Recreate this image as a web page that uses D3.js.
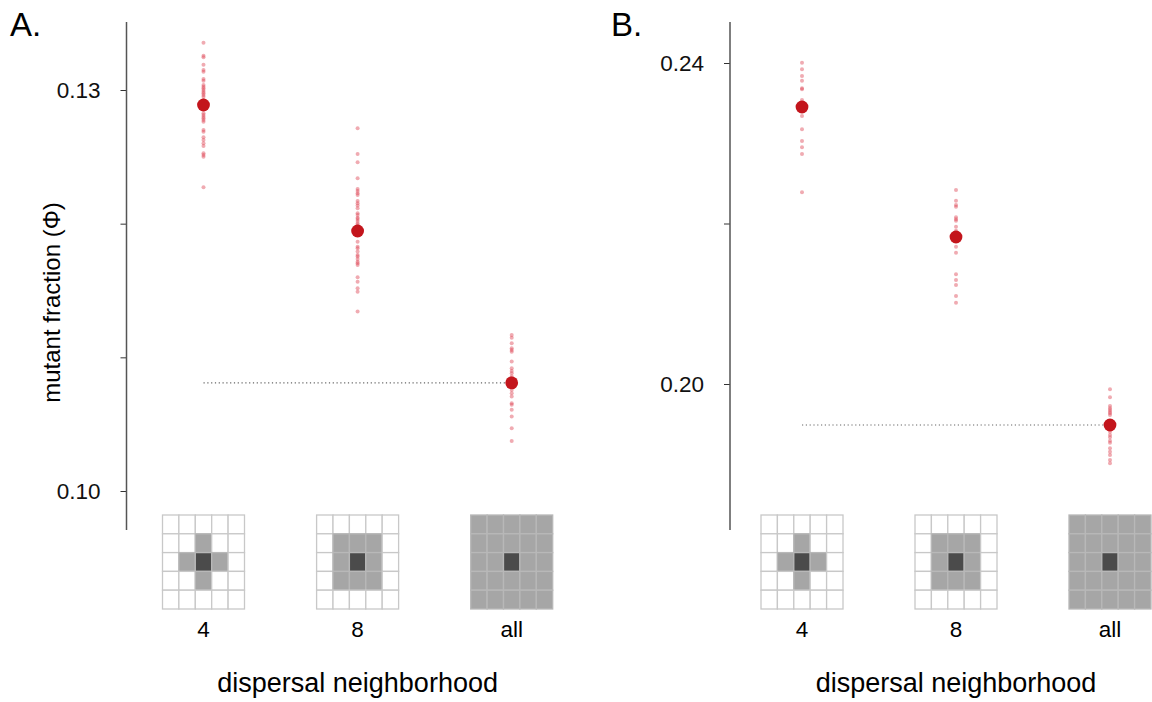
<!DOCTYPE html>
<html>
<head>
<meta charset="utf-8">
<script src="https://cdn.jsdelivr.net/npm/d3@7"></script>
<style>
  body { margin: 0; background: #fff; }
  svg { font-family: "Liberation Sans", Arial, sans-serif; }
</style>
</head>
<body>
<div id="chart"></div>
<script>
const categories = ['4', '8', 'all'];

// panel A: per-run values and means
const runsA4 = [0.13354, 0.13257, 0.13245, 0.13189, 0.13150, 0.13137, 0.13082, 0.13070, 0.13037, 0.13025,
  0.13013, 0.13000, 0.12987, 0.12975, 0.12963, 0.12950, 0.12925, 0.12850, 0.12826, 0.12813, 0.12800,
  0.12788, 0.12776, 0.12763, 0.12701, 0.12688, 0.12646, 0.12626, 0.12601, 0.12581, 0.12527, 0.12514,
  0.12501, 0.12272];
const runsA8 = [0.12714, 0.12521, 0.12459, 0.12340, 0.12260, 0.12245, 0.12227, 0.12215, 0.12170, 0.12153,
  0.12135, 0.12115, 0.12078, 0.12065, 0.12045, 0.12035, 0.12020, 0.12003, 0.11990, 0.11966, 0.11865,
  0.11828, 0.11816, 0.11791, 0.11766, 0.11754, 0.11736, 0.11716, 0.11704, 0.11691, 0.11599, 0.11566,
  0.11517, 0.11491, 0.11342];
const runsAall = [0.11167, 0.11147, 0.11105, 0.11068, 0.11055, 0.11042, 0.10968, 0.10918, 0.10898, 0.10881,
  0.10856, 0.10844, 0.10756, 0.10732, 0.10707, 0.10657, 0.10645, 0.10608, 0.10557, 0.10470, 0.10375];
const meansA = [0.12888, 0.11945, 0.10809];
const ticksA = [0.10, 0.11, 0.12, 0.13];
const tickLabelsA = ['0.10', '', '', '0.13'];

// panel B
const runsB4 = [0.24004, 0.23921, 0.23838, 0.23779, 0.23685, 0.23672, 0.23539, 0.23340, 0.23174, 0.23028,
  0.22950, 0.22866, 0.22389];
const runsB8 = [0.22417, 0.22284, 0.22230, 0.22209, 0.22077, 0.22052, 0.22034, 0.21960, 0.21910, 0.21710,
  0.21636, 0.21367, 0.21296, 0.21234, 0.21097, 0.21013];
const runsBall = [0.19934, 0.19835, 0.19726, 0.19697, 0.19676, 0.19655, 0.19635, 0.19614, 0.19406, 0.19364,
  0.19336, 0.19293, 0.19268, 0.19199, 0.19156, 0.19115, 0.19053, 0.19012];
const meansB = [0.23452, 0.21832, 0.19489];
const ticksB = [0.20, 0.22, 0.24];
const tickLabelsB = ['0.20', '', '0.24'];

// neighbourhood masks (1 = neighbour, 2 = focal cell)
const masks = {
  '4':   [[0,0,0,0,0],[0,0,1,0,0],[0,1,2,1,0],[0,0,1,0,0],[0,0,0,0,0]],
  '8':   [[0,0,0,0,0],[0,1,1,1,0],[0,1,2,1,0],[0,1,1,1,0],[0,0,0,0,0]],
  'all': [[1,1,1,1,1],[1,1,1,1,1],[1,1,2,1,1],[1,1,1,1,1],[1,1,1,1,1]]
};

const W = 1152, H = 702;
const svg = d3.select('#chart').append('svg')
  .attr('width', W)
  .attr('height', H);

const panels = [
  { label: 'A.', lx: 10, axisX: 126.5, xRange: [203.5, 511.7], domain: [0.10, 0.13], yRange: [491, 90],
    runs: [runsA4, runsA8, runsAall], means: meansA, ticks: ticksA, tickLabels: tickLabelsA, ylabel: true },
  { label: 'B.', lx: 611, axisX: 730, xRange: [802, 1110], domain: [0.20, 0.24], yRange: [384, 63],
    runs: [runsB4, runsB8, runsBall], means: meansB, ticks: ticksB, tickLabels: tickLabelsB, ylabel: false }
];

panels.forEach(p => {
  const g = svg.append('g');
  const x = d3.scalePoint().domain(categories).range(p.xRange);
  const y = d3.scaleLinear().domain(p.domain).range(p.yRange);

  g.append('text')
    .attr('x', p.lx).attr('y', 36)
    .style('font-size', '33px')
    .text(p.label);

  // y axis
  const axis = d3.axisLeft(y)
    .tickValues(p.ticks)
    .tickSize(6)
    .tickPadding(20)
    .tickFormat((d, i) => p.tickLabels[i]);
  const ax = g.append('g')
    .attr('transform', 'translate(' + p.axisX + ',0)')
    .call(axis);
  ax.select('.domain').remove();
  ax.selectAll('line').attr('stroke', '#333');
  ax.selectAll('text').style('font-size', '22.5px').attr('fill', '#111');
  g.append('line')
    .attr('x1', p.axisX).attr('x2', p.axisX)
    .attr('y1', 22).attr('y2', 530)
    .attr('stroke', '#555').attr('stroke-width', 1.5);

  if (p.ylabel) {
    g.append('text')
      .attr('transform', 'translate(60,' + 302.5 + ') rotate(-90)')
      .attr('text-anchor', 'middle')
      .style('font-size', '24px')
      .text('mutant fraction (\u03A6)');
  }

  // dotted reference line at the "all" mean
  g.append('line')
    .attr('x1', x('4')).attr('x2', x('all'))
    .attr('y1', y(p.means[2])).attr('y2', y(p.means[2]))
    .attr('stroke', '#666').attr('stroke-width', 1.2)
    .attr('stroke-dasharray', '1.2,2.6');

  // individual runs
  p.runs.forEach((arr, i) => {
    g.append('g').selectAll('circle')
      .data(arr)
      .enter().append('circle')
      .attr('cx', x(categories[i]))
      .attr('cy', d => y(d))
      .attr('r', 2)
      .attr('fill', '#dd4455')
      .attr('fill-opacity', 0.45);
  });

  // means
  g.append('g').selectAll('circle')
    .data(p.means)
    .enter().append('circle')
    .attr('cx', (d, i) => x(categories[i]))
    .attr('cy', d => y(d))
    .attr('r', 6.4)
    .attr('fill', '#c3151c');

  // neighbourhood icons
  const cw = 16.4, ch = 18.8;
  categories.forEach(c => {
    const gx = x(c) - cw * 2.5, gy = 515;
    const ig = g.append('g').attr('transform', 'translate(' + gx + ',' + gy + ')');
    masks[c].forEach((row, r) => {
      row.forEach((v, k) => {
        ig.append('rect')
          .attr('x', k * cw).attr('y', r * ch)
          .attr('width', cw).attr('height', ch)
          .attr('fill', v === 2 ? '#4b4b4b' : v === 1 ? '#a6a6a6' : '#fff')
          .attr('stroke', v === 0 ? '#c8c8c8' : '#b8b8b8')
          .attr('stroke-width', 1.3);
      });
    });
    g.append('text')
      .attr('x', x(c)).attr('y', 637)
      .attr('text-anchor', 'middle')
      .style('font-size', '22.5px')
      .text(c);
  });

  g.append('text')
    .attr('x', x('8')).attr('y', 692)
    .attr('text-anchor', 'middle')
    .style('font-size', '27px')
    .text('dispersal neighborhood');
});
</script>
</body>
</html>
